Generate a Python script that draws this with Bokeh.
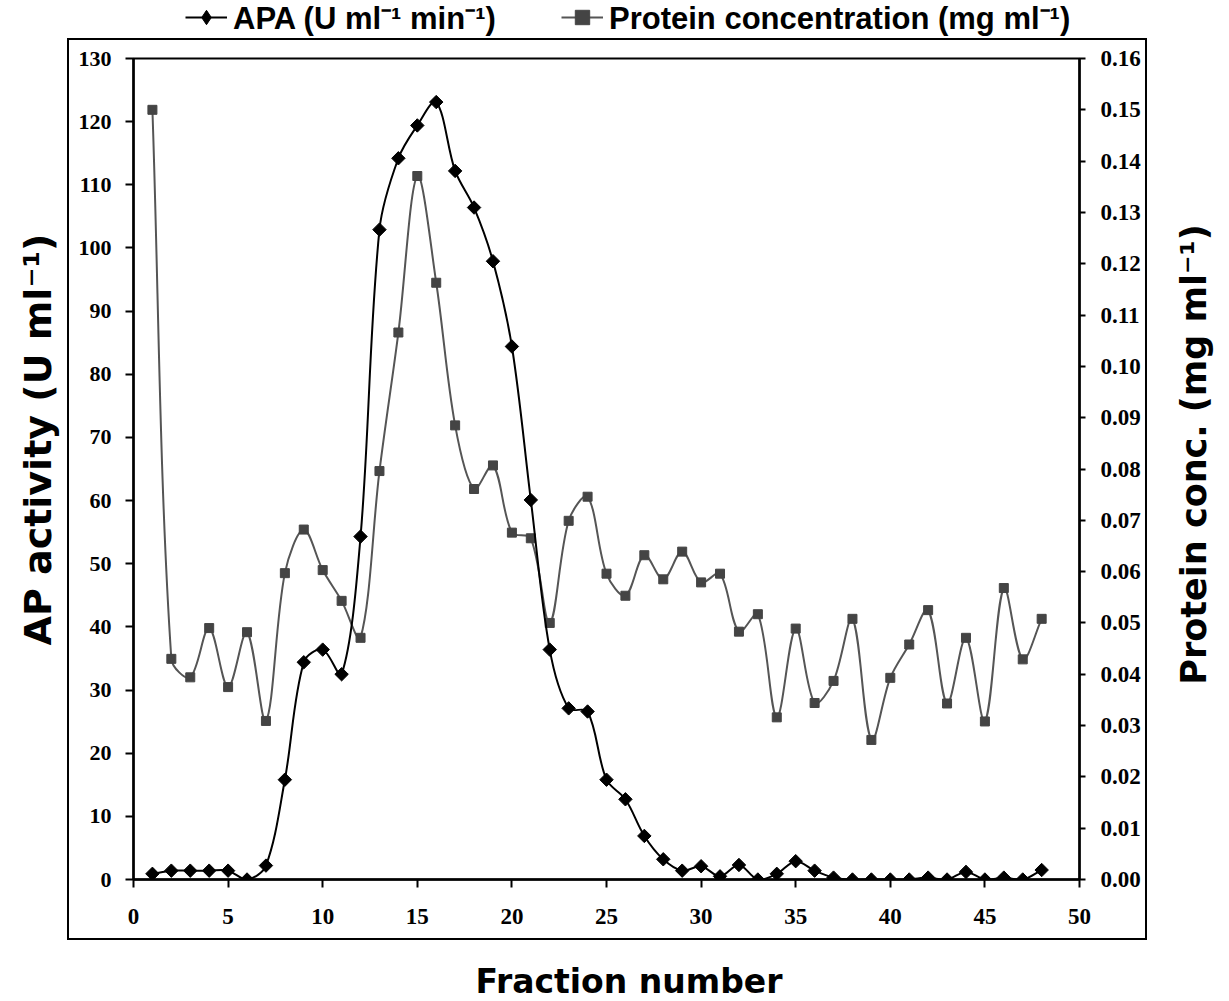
import math
from bokeh.plotting import figure
from bokeh.layouts import column, row
from bokeh.models import (Range1d, LinearAxis, FixedTicker, NumeralTickFormatter, Title,
                          Legend, LegendItem, InlineStyleSheet, Label)
from bokeh.embed import file_html
from bokeh.resources import INLINE

# ---------------- data ----------------
fractions = list(range(1, 49))
apa = [0.9, 1.4, 1.4, 1.4, 1.4, 0.0, 2.2, 15.8, 34.4, 36.4, 32.5, 54.3, 102.9, 114.2,
       119.4, 123.1, 112.2, 106.4, 97.9, 84.4, 60.1, 36.4, 27.1, 26.6, 15.8, 12.7, 6.9,
       3.2, 1.4, 2.1, 0.5, 2.3, 0.0, 0.9, 2.9, 1.4, 0.3, 0.0, 0.0, 0.0, 0.0, 0.3, 0.0,
       1.2, 0.0, 0.3, 0.0, 1.5]
protein = [0.150, 0.0430, 0.0394, 0.0490, 0.0375, 0.0482, 0.0309, 0.0597, 0.0682, 0.0603,
           0.0543, 0.0471, 0.0796, 0.1066, 0.1371, 0.1163, 0.0885, 0.0761, 0.0807, 0.0676,
           0.0665, 0.0500, 0.0699, 0.0746, 0.0596, 0.0553, 0.0632, 0.0585, 0.0639, 0.0579,
           0.0596, 0.0483, 0.0517, 0.0316, 0.0489, 0.0344, 0.0387, 0.0508, 0.0272, 0.0393,
           0.0458, 0.0525, 0.0343, 0.0471, 0.0308, 0.0568, 0.0429, 0.0508]

x_ticks = list(range(0, 51, 5))
left_ticks = list(range(0, 131, 10))
right_ticks = [i / 100 for i in range(0, 17)]

apa_label = "APA (U ml\u207b\u00b9 min\u207b\u00b9)"
protein_label = "Protein concentration (mg ml\u207b\u00b9)"
x_title = "Fraction number"
left_title = "AP activity (U ml\u207b\u00b9)"
right_title = "Protein conc. (mg ml\u207b\u00b9)"

FRAME_W, FRAME_H = 946, 821
FIG_W, FIG_H = 1229, 1001
FRAME_LEFT, FRAME_TOP = 133, 58
LEG_H = 40          # legend strip on top
BOT_H = 51          # strip holding the x title
RIGHT_W = 59        # strip holding the right title
MAIN_H = FIG_H - LEG_H - BOT_H
MAIN_W = FIG_W - RIGHT_W
TITLE_FONT = "DejaVu Sans"


def smooth(xs, ys, ymax, xmax=50):
    """Bezier control points for an Excel-like smoothed line (computed in screen space)."""
    kx, ky = FRAME_W / xmax, FRAME_H / ymax
    P = [(x * kx, y * ky) for x, y in zip(xs, ys)]
    n = len(P)
    d = {k: [] for k in ("x0", "y0", "x1", "y1", "cx0", "cy0", "cx1", "cy1")}

    def dist(a, b):
        return math.hypot(a[0] - b[0], a[1] - b[1])

    for i in range(n - 1):
        p0 = P[i - 1] if i > 0 else P[i]
        p1, p2 = P[i], P[i + 1]
        p3 = P[i + 2] if i + 2 < n else P[i + 1]
        d01, d12, d23 = dist(p0, p1), dist(p1, p2), dist(p2, p3)
        a = d12 / (d01 + d12) if d01 + d12 > 0 else 0
        b = d12 / (d12 + d23) if d12 + d23 > 0 else 0
        c1 = (p1[0] + (p2[0] - p0[0]) * a / 3, p1[1] + (p2[1] - p0[1]) * a / 3)
        c2 = (p2[0] - (p3[0] - p1[0]) * b / 3, p2[1] - (p3[1] - p1[1]) * b / 3)
        d["x0"].append(p1[0] / kx); d["y0"].append(p1[1] / ky)
        d["x1"].append(p2[0] / kx); d["y1"].append(p2[1] / ky)
        d["cx0"].append(c1[0] / kx); d["cy0"].append(c1[1] / ky)
        d["cx1"].append(c2[0] / kx); d["cy1"].append(c2[1] / ky)
    return d


def strip(w, h):
    f = figure(width=w, height=h, x_range=Range1d(0, w), y_range=Range1d(0, h),
               output_backend="svg", toolbar_location=None,
               x_axis_location=None, y_axis_location=None,
               min_border_left=0, min_border_right=0, min_border_top=0, min_border_bottom=0,
               background_fill_color="white", border_fill_color="white")
    f.grid.visible = False
    f.outline_line_color = None
    return f


# ---------------- main chart ----------------
p = figure(frame_width=FRAME_W, frame_height=FRAME_H,
           x_range=Range1d(0, 50), y_range=Range1d(0, 130),
           output_backend="svg", toolbar_location=None,
           min_border_left=FRAME_LEFT, min_border_right=MAIN_W - FRAME_LEFT - FRAME_W,
           min_border_top=FRAME_TOP - LEG_H,
           min_border_bottom=MAIN_H - (FRAME_TOP - LEG_H) - FRAME_H,
           background_fill_color="white", border_fill_color="white")
p.extra_y_ranges = {"right": Range1d(0, 0.16)}
p.grid.visible = False
p.outline_line_color = "black"
p.outline_line_width = 2

tick_font = "Liberation Serif"

xa = p.xaxis[0]
xa.ticker = FixedTicker(ticks=x_ticks)
xa.major_label_text_font_size = "23px"
xa.major_label_standoff = 21

ya = p.yaxis[0]
ya.ticker = FixedTicker(ticks=left_ticks)
ya.major_label_text_font_size = "22px"
ya.major_label_standoff = 14

ra = LinearAxis(y_range_name="right", ticker=FixedTicker(ticks=right_ticks),
                formatter=NumeralTickFormatter(format="0.00"))
ra.major_label_text_font_size = "23px"
ra.major_label_standoff = 15
p.add_layout(ra, "right")

for ax, out in ((xa, 8), (ya, 8), (ra, 6)):
    ax.major_label_text_font = tick_font
    ax.major_label_text_font_style = "bold"
    ax.axis_line_width = 2.5
    ax.axis_line_color = "black"
    ax.major_tick_line_width = 2
    ax.major_tick_line_color = "black"
    ax.major_tick_in = 0
    ax.major_tick_out = out
    ax.minor_tick_line_color = None
    ax.major_label_text_color = "black"

ps = smooth(fractions, protein, 0.16)
p.bezier(x0=ps["x0"], y0=ps["y0"], x1=ps["x1"], y1=ps["y1"],
         cx0=ps["cx0"], cy0=ps["cy0"], cx1=ps["cx1"], cy1=ps["cy1"],
         line_color="#555555", line_width=2, y_range_name="right")
p.scatter(fractions, protein, marker="square", size=9, color="#444444",
          y_range_name="right")

asm = smooth(fractions, apa, 130)
p.bezier(x0=asm["x0"], y0=asm["y0"], x1=asm["x1"], y1=asm["y1"],
         cx0=asm["cx0"], cy0=asm["cy0"], cx1=asm["cx1"], cy1=asm["cy1"],
         line_color="black", line_width=2)
p.scatter(fractions, apa, marker="square", angle=math.pi / 4, size=9.5, color="black")

p.add_layout(Title(text=left_title, align="left", offset=234, vertical_align="top",
                   standoff=28, text_font=TITLE_FONT, text_font_style="bold",
                   text_font_size="38px", text_color="black"), "left")

# ---------------- legend strip ----------------
lg = strip(FIG_W, LEG_H)
l_apa = lg.line(fractions, apa, line_color="black", line_width=2, visible=False)
m_apa = lg.scatter(fractions, apa, marker="diamond", color="black", visible=False)
l_pro = lg.line(fractions, apa, line_color="#555555", line_width=2, visible=False)
m_pro = lg.scatter(fractions, apa, marker="square", color="#444444", visible=False)
leg_style = dict(orientation="horizontal",
                 label_text_font="Liberation Sans", label_text_font_style="bold",
                 label_text_font_size="31px", label_text_color="black",
                 label_height=36, glyph_height=36,
                 glyph_width=42, label_standoff=6,
                 padding=0, margin=0, border_line_color=None,
                 background_fill_alpha=0, inactive_fill_alpha=0)
lg.add_layout(Legend(items=[LegendItem(label=apa_label, renderers=[l_apa, m_apa])],
                     location=(185, 2), **leg_style))
lg.add_layout(Legend(items=[LegendItem(label=protein_label, renderers=[l_pro, m_pro])],
                     location=(561, 2), **leg_style))

# ---------------- right title strip ----------------
rs = strip(RIGHT_W, MAIN_H)
rs.add_layout(Label(x=23, y=MAIN_H - (734 - LEG_H), text=right_title, angle=math.pi / 2,
                    text_align="left", text_baseline="middle",
                    text_font=TITLE_FONT, text_font_style="bold",
                    text_font_size="35px", text_color="black"))

# ---------------- bottom title strip ----------------
bs = strip(FIG_W, BOT_H)
bs.add_layout(Label(x=475, y=20, text=x_title, text_align="left",
                    text_baseline="alphabetic",
                    text_font=TITLE_FONT, text_font_style="bold",
                    text_font_size="33px", text_color="black"))

layout = column(lg, row(p, rs, spacing=0), bs, spacing=0)
layout.stylesheets = [InlineStyleSheet(css="""
:host { position: relative; }
:host::after {
  content: ""; position: absolute; left: 67px; top: 38px;
  width: 1080px; height: 902px; border: 2px solid black;
  box-sizing: border-box; pointer-events: none;
}
""")]

open("out.html", "w").write(file_html(layout, INLINE))
